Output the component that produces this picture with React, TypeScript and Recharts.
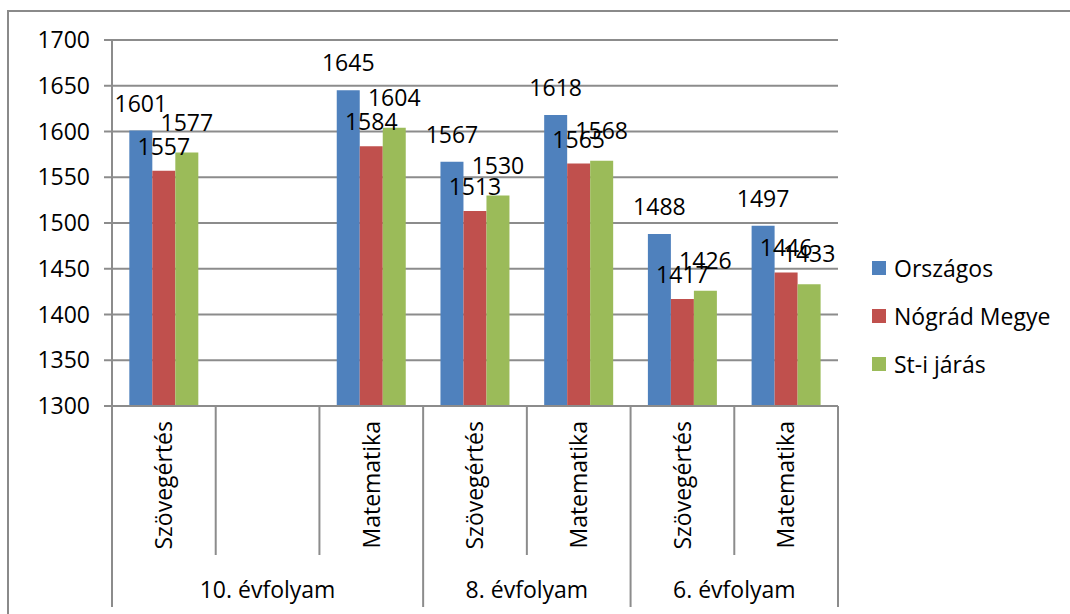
import React from "react";
import { BarChart, Bar, XAxis, YAxis, CartesianGrid, LabelList } from "recharts";

const categories = ["Szövegértés", "", "Matematika", "Szövegértés", "Matematika", "Szövegértés", "Matematika"];
const groupNames = ["10. évfolyam", "8. évfolyam", "6. évfolyam"];
const groupSpans = [3, 2, 2];
const orszagos = [1601, null, 1645, 1567, 1618, 1488, 1497];
const nograd = [1557, null, 1584, 1513, 1565, 1417, 1446];
const stiJaras = [1577, null, 1604, 1530, 1568, 1426, 1433];
const yTicks = [1300, 1350, 1400, 1450, 1500, 1550, 1600, 1650, 1700];

const seriesNames = ["Országos", "Nógrád Megye", "St-i járás"];
const seriesKeys = ["orszagos", "nograd", "sti"];
const colors = ["#4F81BD", "#C0504D", "#9BBB59"];
const labelGaps = [19, 16, 22];

const data = categories.map((c, i) => ({
  key: String(i),
  orszagos: orszagos[i],
  nograd: nograd[i],
  sti: stiJaras[i],
}));

const FONT = "'Open Sans', 'Liberation Sans', sans-serif";
const GRID = "#8c8c8c";

const groupStarts: number[] = [];
{
  let acc = 0;
  groupSpans.forEach((s) => {
    groupStarts.push(acc);
    acc += s;
  });
}

const XTick = (props: any) => {
  const { x, y, payload } = props;
  const idx: number = payload.index;
  const half: number = payload.offset || 726 / 7 / 2;
  const band = half * 2;
  const isGroupStart = groupStarts.includes(idx);
  const isLast = idx === categories.length - 1;
  const shortLen = 149;
  const longLen = 201;
  const gi = groupStarts.indexOf(idx);
  return (
    <g>
      <line x1={x - half} x2={x - half} y1={y} y2={y + (isGroupStart ? longLen : shortLen)} stroke={GRID} strokeWidth={2} />
      {isLast && <line x1={x + half} x2={x + half} y1={y} y2={y + longLen} stroke={GRID} strokeWidth={2} />}
      {categories[idx] && (
        <text
          x={x}
          y={y + 15}
          transform={`rotate(-90, ${x}, ${y + 15})`}
          textAnchor="end"
          dy="0.36em"
          fontSize={23}
          fontFamily={FONT}
          fill="#000"
        >
          {categories[idx]}
        </text>
      )}
      {gi >= 0 && (
        <text
          x={x - half + (groupSpans[gi] * band) / 2}
          y={y + 192}
          textAnchor="middle"
          fontSize={23}
          fontFamily={FONT}
          fill="#000"
        >
          {groupNames[gi]}
        </text>
      )}
    </g>
  );
};

const makeLabel = (gap: number) => (props: any) => {
  const { x, y, width, value } = props;
  if (value === null || value === undefined) return null;
  return (
    <text x={x + width / 2} y={y - gap} textAnchor="middle" fontSize={23} fontFamily={FONT} fill="#000">
      {value}
    </text>
  );
};

export default function App() {
  return (
    <div style={{ position: "absolute", left: 0, top: 0, width: 1070, height: 614, overflow: "hidden", background: "#fff" }}>
      <div
        style={{
          position: "absolute",
          left: 7,
          top: 10,
          width: 1200,
          height: 800,
          border: "2px solid #8a8a8a",
          boxSizing: "border-box",
        }}
      />
      <div style={{ position: "absolute", left: 0, top: 0 }}>
        <BarChart
          width={1070}
          height={614}
          data={data}
          margin={{ top: 40, right: 232, bottom: 8, left: 0 }}
          barCategoryGap="16.7%"
          barGap={0}
        >
          <CartesianGrid horizontal vertical={false} stroke={GRID} strokeWidth={2} />
          <XAxis
            dataKey="key"
            height={200}
            tickSize={0}
            tickMargin={0}
            tickLine={false}
            interval={0}
            axisLine={{ stroke: GRID, strokeWidth: 2 }}
            tick={<XTick />}
          />
          <YAxis
            width={112}
            domain={[1300, 1700]}
            ticks={yTicks}
            interval={0}
            tickSize={8}
            tickMargin={14}
            axisLine={{ stroke: GRID, strokeWidth: 2 }}
            tickLine={{ stroke: GRID, strokeWidth: 2 }}
            tick={{ fontSize: 23, fontFamily: FONT, fill: "#000" }}
          />
          {seriesKeys.map((k, i) => (
            <Bar key={k} dataKey={k} name={seriesNames[i]} fill={colors[i]} isAnimationActive={false}>
              <LabelList dataKey={k} content={makeLabel(labelGaps[i])} />
            </Bar>
          ))}
        </BarChart>
      </div>
      <div style={{ position: "absolute", left: 872, top: 244, fontFamily: FONT, fontSize: 23, color: "#000" }}>
        {seriesNames.map((n, i) => (
          <div key={n} style={{ display: "flex", alignItems: "center", height: 48 }}>
            <span style={{ display: "inline-block", width: 14, height: 14, background: colors[i], marginRight: 8 }} />
            <span>{n}</span>
          </div>
        ))}
      </div>
    </div>
  );
}
